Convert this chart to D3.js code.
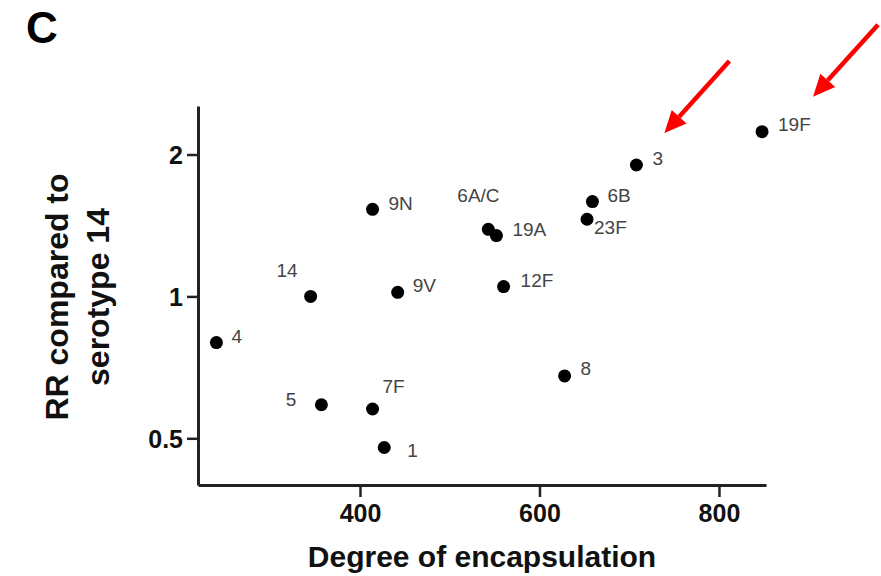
<!DOCTYPE html>
<html>
<head>
<meta charset="utf-8">
<script src="https://cdn.jsdelivr.net/npm/d3@7"></script>
<style>
  body { margin: 0; background: #fff; }
  svg { font-family: "Liberation Sans", Arial, sans-serif; }
</style>
</head>
<body>
<div id="chart"></div>
<script>
// serotype data
const serotypes = ["1", "3", "4", "5", "6A/C", "6B", "7F", "8", "9N", "9V", "12F", "14", "19A", "19F", "23F"];
const encapsulation = [427, 708, 240, 357, 543, 659, 414, 628, 414, 442, 560, 345, 552, 848, 653];
const relativeRisk = [0.478, 1.90, 0.798, 0.589, 1.388, 1.589, 0.577, 0.678, 1.53, 1.02, 1.049, 1.0, 1.346, 2.236, 1.458];

const xTicks = [400, 600, 800];
const yTicks = [0.5, 1, 2];

// label placement next to each dot: [dx, dy, anchor]
const labelOffsets = {
  "1": [23, 9, "start"], "3": [16, 0, "start"], "4": [15, 0, "start"],
  "5": [-25, 1, "end"], "6A/C": [-31, -27, "start"], "6B": [15, 0, "start"],
  "7F": [10, -16, "start"], "8": [16, -1, "start"], "9N": [16, 1, "start"],
  "9V": [15, 0, "start"], "12F": [17, 0, "start"], "14": [-13, -19, "end"],
  "19A": [16, 0, "start"], "19F": [16, -1, "start"], "23F": [7, 15, "start"]
};

// red arrows pointing at highlighted serotypes
const highlighted = ["3", "19F"];
const arrowTipOffsets = [[28, -32], [51, -35]];

const width = 881, height = 576;
const margin = { top: 106, right: 115, bottom: 91, left: 198 };

const points = serotypes.map((s, i) => ({ name: s, x: encapsulation[i], y: relativeRisk[i] }));

const svg = d3.select("#chart")
  .append("svg")
  .attr("width", width)
  .attr("height", height);

const x = d3.scaleLinear()
  .domain([219.5, 852.4])
  .range([margin.left, width - margin.right]);

const y = d3.scaleLog()
  .base(2)
  .domain([0.398, 2.535])
  .range([height - margin.bottom, margin.top]);

// panel letter
svg.append("text")
  .attr("x", 26)
  .attr("y", 43)
  .style("font-size", "44px")
  .style("font-weight", "bold")
  .text("C");

const xAxis = svg.append("g")
  .attr("transform", `translate(0,${height - margin.bottom})`)
  .call(d3.axisBottom(x).tickValues(xTicks).tickSize(12).tickPadding(6).tickSizeOuter(0));

const yAxis = svg.append("g")
  .attr("transform", `translate(${margin.left},0)`)
  .call(d3.axisLeft(y).tickValues(yTicks).tickFormat(d => d).tickSize(11).tickPadding(4).tickSizeOuter(0));

[xAxis, yAxis].forEach(g => {
  g.select(".domain").attr("stroke", "#222").attr("stroke-width", 3);
  g.selectAll(".tick line").attr("stroke", "#222").attr("stroke-width", 2.5);
  g.selectAll(".tick text")
    .attr("fill", "#111")
    .style("font-size", "25px")
    .style("font-weight", "bold")
    .style("font-family", "'Liberation Sans', Arial, sans-serif");
});
xAxis.selectAll(".tick text").attr("dy", "0.75em");
yAxis.selectAll(".tick text").attr("dy", "0.36em");

// axis titles
svg.append("text")
  .attr("x", (margin.left + width - margin.right) / 2)
  .attr("y", 567)
  .attr("text-anchor", "middle")
  .attr("fill", "#111")
  .style("font-size", "30px")
  .style("font-weight", "bold")
  .text("Degree of encapsulation");

const yTitle = svg.append("text")
  .attr("transform", "translate(0,297) rotate(-90)")
  .attr("text-anchor", "middle")
  .attr("fill", "#111")
  .style("font-size", "32px")
  .style("font-weight", "bold");
yTitle.append("tspan").attr("x", 0).attr("y", 68).text("RR compared to");
yTitle.append("tspan").attr("x", 0).attr("y", 109).text("serotype 14");

// dots
svg.append("g")
  .selectAll("circle")
  .data(points)
  .join("circle")
  .attr("cx", d => x(d.x))
  .attr("cy", d => y(d.y))
  .attr("r", 6.5)
  .attr("fill", "#000");

// dot labels
svg.append("g")
  .selectAll("text")
  .data(points)
  .join("text")
  .attr("x", d => x(d.x) + labelOffsets[d.name][0])
  .attr("y", d => y(d.y) + labelOffsets[d.name][1])
  .attr("text-anchor", d => labelOffsets[d.name][2])
  .attr("fill", "#444")
  .style("font-size", "19px")
  .text(d => d.name);

// arrows
const arrowG = svg.append("g");
highlighted.forEach((name, i) => {
  const p = points.find(d => d.name === name);
  const tipX = x(p.x) + arrowTipOffsets[i][0];
  const tipY = y(p.y) + arrowTipOffsets[i][1];
  const tailX = tipX + 65, tailY = tipY - 72;
  const ang = Math.atan2(tipY - tailY, tipX - tailX);
  const headLen = 22, headHalf = 10;
  const bx = tipX - headLen * Math.cos(ang), by = tipY - headLen * Math.sin(ang);
  arrowG.append("line")
    .attr("x1", tailX).attr("y1", tailY)
    .attr("x2", bx).attr("y2", by)
    .attr("stroke", "#f00")
    .attr("stroke-width", 4.5);
  arrowG.append("polygon")
    .attr("points", [
      [tipX, tipY],
      [bx + headHalf * Math.sin(ang), by - headHalf * Math.cos(ang)],
      [bx - headHalf * Math.sin(ang), by + headHalf * Math.cos(ang)]
    ].map(q => q.join(",")).join(" "))
    .attr("fill", "#f00");
});
</script>
</body>
</html>
